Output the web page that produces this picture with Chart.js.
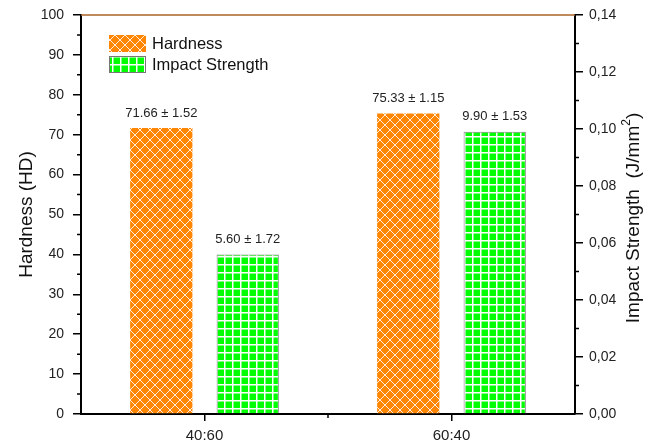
<!DOCTYPE html>
<html lang="en">
<head>
    <meta charset="UTF-8">
    <title>Hardness and Impact Strength</title>
    <script src="https://cdn.jsdelivr.net/npm/chart.js@4.4.0/dist/chart.umd.min.js"></script>
    <style>
        body { margin: 0; background: #fff; }
        #wrap { width: 665px; height: 448px; }
    </style>
</head>
<body>
    <div id="wrap"><canvas id="chart"></canvas></div>
    <script>
// blend ratios
const ratios = ['40:60', '60:40'];
const hardness = [71.66, 75.33];
const hardnessErr = [1.52, 1.15];
// impact strength as printed on the bars; right axis ticks show it /100
const impact = [5.60, 9.90];
const impactErr = [1.72, 1.53];

const FONT = 'Arial, "Liberation Sans", sans-serif';

function hatchPattern() {
    const c = document.createElement('canvas');
    c.width = 10; c.height = 10;
    const g = c.getContext('2d');
    g.fillStyle = '#ff8600';
    g.fillRect(0, 0, 10, 10);
    g.strokeStyle = 'rgba(255,255,255,0.85)';
    g.lineWidth = 1;
    g.beginPath();
    g.moveTo(0, 0); g.lineTo(10, 10);
    g.moveTo(10, 0); g.lineTo(0, 10);
    g.stroke();
    return g.createPattern(c, 'repeat');
}

function gridPattern() {
    const c = document.createElement('canvas');
    c.width = 8; c.height = 8;
    const g = c.getContext('2d');
    g.fillStyle = '#00ff00';
    g.fillRect(0, 0, 8, 8);
    g.fillStyle = '#ffffff';
    g.fillRect(0, 0, 8, 1.5);
    g.fillRect(0, 0, 1.5, 8);
    return g.createPattern(c, 'repeat');
}

const orangeFill = hatchPattern();
const greenFill = gridPattern();

// labels over bars, legend box, rotated axis titles, minor ticks, top frame line
const extras = {
    id: 'extras',
    afterDatasetsDraw(chart) {
        const ctx = chart.ctx;
        const area = chart.chartArea;
        const yL = chart.scales.y;
        const yR = chart.scales.y2;
        const x = chart.scales.x;

        ctx.save();
        // top frame line
        ctx.strokeStyle = '#a8652a';
        ctx.lineWidth = 1.5;
        ctx.beginPath();
        ctx.moveTo(area.left, area.top);
        ctx.lineTo(area.right, area.top);
        ctx.stroke();

        // minor ticks
        ctx.strokeStyle = '#000';
        ctx.lineWidth = 1.5;
        ctx.beginPath();
        for (let v = 5; v < 100; v += 10) {
            const py = yL.getPixelForValue(v);
            ctx.moveTo(area.left - 4, py); ctx.lineTo(area.left, py);
        }
        for (let v = 1; v < 14; v += 2) {
            const py = yR.getPixelForValue(v);
            ctx.moveTo(area.right, py); ctx.lineTo(area.right + 4, py);
        }
        const mid = (x.getPixelForValue(0) + x.getPixelForValue(1)) / 2;
        ctx.moveTo(mid, area.bottom); ctx.lineTo(mid, area.bottom + 4);
        ctx.stroke();

        // value labels
        ctx.font = '13px ' + FONT;
        ctx.fillStyle = '#222';
        ctx.textAlign = 'center';
        ctx.textBaseline = 'middle';
        const errs = [hardnessErr, impactErr];
        const vals = [hardness, impact];
        chart.data.datasets.forEach((ds, i) => {
            chart.getDatasetMeta(i).data.forEach((bar, j) => {
                const txt = vals[i][j].toFixed(2) + ' \u00b1 ' + errs[i][j].toFixed(2);
                ctx.fillText(txt, bar.x, bar.y - 15);
            });
        });

        // legend
        const lx = area.left + 28;
        ctx.fillStyle = orangeFill;
        ctx.fillRect(lx, 35, 37, 17);
        ctx.fillStyle = greenFill;
        ctx.fillRect(lx, 56, 37, 17);
        ctx.strokeStyle = '#777';
        ctx.lineWidth = 1;
        ctx.strokeRect(lx + 0.5, 56.5, 36, 16);
        ctx.font = '16.5px ' + FONT;
        ctx.fillStyle = '#111';
        ctx.textAlign = 'left';
        ctx.fillText('Hardness', lx + 43, 44);
        ctx.fillText('Impact Strength', lx + 43, 65);

        // axis titles
        const cy = (area.top + area.bottom) / 2;
        ctx.font = '19px ' + FONT;
        ctx.textAlign = 'center';
        ctx.save();
        ctx.translate(27, cy);
        ctx.rotate(-Math.PI / 2);
        ctx.fillText('Hardness (HD)', 0, 0);
        ctx.restore();

        ctx.save();
        ctx.translate(634, 218);
        ctx.rotate(-Math.PI / 2);
        const main = 'Impact Strength  (J/mm';
        const wMain = ctx.measureText(main).width;
        ctx.font = '12px ' + FONT;
        const wSup = ctx.measureText('2').width;
        ctx.font = '19px ' + FONT;
        const wEnd = ctx.measureText(')').width;
        let px = -(wMain + wSup + wEnd) / 2;
        ctx.textAlign = 'left';
        ctx.fillText(main, px, 0);
        px += wMain;
        ctx.font = '12px ' + FONT;
        ctx.fillText('2', px, -7);
        px += wSup;
        ctx.font = '19px ' + FONT;
        ctx.fillText(')', px, 0);
        ctx.restore();

        ctx.restore();
    }
};

const tickFont = { family: FONT, size: 14 };

new Chart(document.getElementById('chart'), {
    type: 'bar',
    data: {
        labels: ratios,
        datasets: [{
            label: 'Hardness',
            data: hardness,
            yAxisID: 'y',
            backgroundColor: orangeFill,
            borderWidth: 0,
            categoryPercentage: 0.7,
            barPercentage: 0.72
        }, {
            label: 'Impact Strength',
            data: impact,
            yAxisID: 'y2',
            backgroundColor: greenFill,
            borderColor: '#808080',
            borderWidth: 1,
            categoryPercentage: 0.7,
            barPercentage: 0.72
        }]
    },
    options: {
        responsive: true,
        maintainAspectRatio: false,
        animation: false,
        layout: { padding: { top: 15, left: 0, right: 0, bottom: 0 } },
        plugins: {
            legend: { display: false },
            tooltip: { enabled: false }
        },
        scales: {
            x: {
                grid: { offset: false, drawOnChartArea: false, color: '#000', tickLength: 7, lineWidth: 1.5 },
                border: { color: '#000', width: 2 },
                ticks: { font: { family: FONT, size: 15 }, color: '#222', padding: 6 },
                afterFit(s) { s.height = 34; }
            },
            y: {
                position: 'left',
                min: 0, max: 100,
                ticks: { stepSize: 10, font: tickFont, color: '#222', padding: 9 },
                grid: { drawOnChartArea: false, color: '#000', tickLength: 8, lineWidth: 1.5 },
                border: { color: '#000', width: 2 },
                afterFit(s) { s.width = 81; s.paddingTop = 0; s.paddingBottom = 0; }
            },
            y2: {
                position: 'right',
                min: 0, max: 14,
                ticks: {
                    stepSize: 2, font: tickFont, color: '#222', padding: 6,
                    callback: v => (v / 100).toFixed(2).replace('.', ',')
                },
                grid: { drawOnChartArea: false, color: '#000', tickLength: 8, lineWidth: 1.5 },
                border: { color: '#000', width: 2 },
                afterFit(s) { s.width = 90; s.paddingTop = 0; s.paddingBottom = 0; }
            }
        }
    },
    plugins: [extras]
});
    </script>
</body>
</html>
